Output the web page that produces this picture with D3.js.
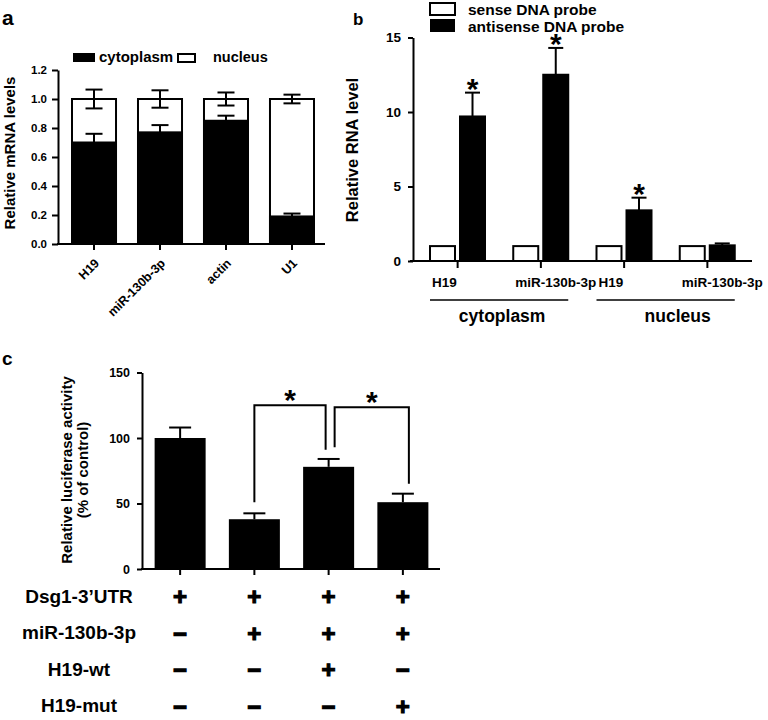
<!DOCTYPE html>
<html>
<head>
<meta charset="utf-8">
<title>H19 / miR-130b-3p</title>
<script src="https://d3js.org/d3.v7.min.js"></script>
<style>
body { margin: 0; background: #fff; }
svg text { font-family: "Liberation Sans", Arial, Helvetica, sans-serif; font-weight: bold; fill: #000; }
.axis path, .axis line { stroke: #000; stroke-width: 2px; }
</style>
</head>
<body>
<svg id="fig" width="768" height="720"></svg>
<script>
// ---- panel a: fraction of each RNA in cytoplasm / nucleus
var genesA = ["H19", "miR-130b-3p", "actin", "U1"];
var cytoA = [0.70, 0.77, 0.85, 0.19];
var cytoErrA = [0.06, 0.05, 0.035, 0.02];
var nucErrA = [0.065, 0.06, 0.045, 0.03];
var ticksA = [0, 0.2, 0.4, 0.6, 0.8, 1.0, 1.2];

// ---- panel b: RNA pull-down with sense / antisense probes
var groupsB = ["H19", "miR-130b-3p", "H19", "miR-130b-3p"];
var fractionsB = ["cytoplasm", "nucleus"];
var probesB = ["sense DNA probe", "antisense DNA probe"];
var senseB = [1, 1, 1, 1];
var antisenseB = [9.7, 12.5, 3.4, 1.05];
var antisenseErrB = [1.6, 1.8, 0.85, 0.13];
var starB = [true, true, true, false];
var ticksB = [0, 5, 10, 15];

// ---- panel c: luciferase reporter
var lucC = [100, 38, 78, 51];
var lucErrC = [8, 4.5, 6, 6.5];
var ticksC = [0, 50, 100, 150];
var rowLabelsC = ["Dsg1-3\u2019UTR", "miR-130b-3p", "H19-wt", "H19-mut"];
var signsC = [
  ["+", "+", "+", "+"],
  ["\u2212", "+", "+", "+"],
  ["\u2212", "\u2212", "+", "\u2212"],
  ["\u2212", "\u2212", "\u2212", "+"]
];
// significance brackets: bar indices, bracket height and leg ends (in % units)
var bracketsC = [
  { a: 1, b: 2, top: 125, legA: 51, legB: 91 },
  { a: 2, b: 3, top: 123.5, legA: 93, legB: 65 }
];

var svg = d3.select("#fig");

function txt(g, x, y, s, size, anchor) {
  return g.append("text").attr("x", x).attr("y", y)
    .attr("font-size", size).attr("text-anchor", anchor || "start").text(s);
}
function vline(g, x, y1, y2) {
  g.append("line").attr("x1", x).attr("x2", x).attr("y1", y1).attr("y2", y2)
    .attr("stroke", "#000").attr("stroke-width", 2);
}
function hline(g, x1, x2, y, w) {
  g.append("line").attr("x1", x1).attr("x2", x2).attr("y1", y).attr("y2", y)
    .attr("stroke", "#000").attr("stroke-width", w || 2);
}
function star(g, x, y) {
  // y = bottom of the asterisk glyph
  g.append("text").attr("x", x).attr("y", y + 9).attr("font-size", 30)
    .attr("font-weight", "normal").attr("text-anchor", "middle").text("*");
}

// ================= panel a =================
var gA = svg.append("g");
txt(gA, 2, 25, "a", 21);

var ya = d3.scaleLinear().domain([0, 1.2]).range([244, 70]);
var xa = d3.scaleBand().domain(genesA).range([61, 325]).paddingInner(0.333).paddingOuter(0.1667);

gA.selectAll(".nuc").data(genesA).join("rect").attr("class", "nuc")
  .attr("x", function(d) { return xa(d); })
  .attr("width", xa.bandwidth())
  .attr("y", ya(1)).attr("height", ya(0) - ya(1))
  .attr("fill", "#fff").attr("stroke", "#000").attr("stroke-width", 2);

gA.selectAll(".cyto").data(genesA).join("rect").attr("class", "cyto")
  .attr("x", function(d) { return xa(d); })
  .attr("width", xa.bandwidth())
  .attr("y", function(d, i) { return ya(cytoA[i]); })
  .attr("height", function(d, i) { return ya(0) - ya(cytoA[i]); })
  .attr("fill", "#000").attr("stroke", "#000").attr("stroke-width", 2);

genesA.forEach(function(d, i) {
  var cx = xa(d) + xa.bandwidth() / 2;
  // cytoplasm error, upward
  vline(gA, cx, ya(cytoA[i]), ya(cytoA[i] + cytoErrA[i]));
  hline(gA, cx - 8.5, cx + 8.5, ya(cytoA[i] + cytoErrA[i]));
  // nucleus error around the total
  vline(gA, cx, ya(1 - nucErrA[i]), ya(1 + nucErrA[i]));
  hline(gA, cx - 8.5, cx + 8.5, ya(1 + nucErrA[i]));
  hline(gA, cx - 8.5, cx + 8.5, ya(1 - nucErrA[i]));
  // rotated category label
  gA.append("text")
    .attr("transform", "translate(" + (cx + 6) + ",264) rotate(-45)")
    .attr("font-size", 12.5).attr("text-anchor", "end").text(d);
});

gA.append("g").attr("class", "axis").attr("transform", "translate(58,0)")
  .call(d3.axisLeft(ya).tickValues(ticksA).tickFormat(d3.format(".1f"))
    .tickSize(6).tickPadding(5).tickSizeOuter(0))
  .call(function(g) { g.selectAll("text").attr("font-size", 11.5); });

var axA = gA.append("g").attr("class", "axis").attr("transform", "translate(0,244)")
  .call(d3.axisBottom(xa).tickSize(6).tickSizeOuter(0).tickFormat(""));
axA.select(".domain").remove();
hline(gA, 57, 325, 244);

gA.append("text").attr("transform", "translate(15,153) rotate(-90)")
  .attr("font-size", 15).attr("text-anchor", "middle").text("Relative mRNA levels");

// legend a
gA.append("rect").attr("x", 73).attr("y", 53).attr("width", 22).attr("height", 9).attr("fill", "#000");
txt(gA, 99, 62, "cytoplasm", 15);
gA.append("rect").attr("x", 178).attr("y", 54).attr("width", 17).attr("height", 8)
  .attr("fill", "#fff").attr("stroke", "#000").attr("stroke-width", 2);
txt(gA, 213, 62, "nucleus", 14.5);

// ================= panel b =================
var gB = svg.append("g");
txt(gB, 353, 25, "b", 17);

var yb = d3.scaleLinear().domain([0, 15]).range([261, 37.5]);
var x0 = d3.scaleBand().domain(d3.range(groupsB.length)).range([416, 749]);
var x1 = d3.scaleBand().domain(probesB).range([14, 69]).paddingInner(0.167);

groupsB.forEach(function(d, i) {
  var xs = x0(i) + x1(probesB[0]);
  var xa2 = x0(i) + x1(probesB[1]);
  var bw = x1.bandwidth();
  gB.append("rect").attr("x", xs).attr("width", bw)
    .attr("y", yb(senseB[i])).attr("height", yb(0) - yb(senseB[i]))
    .attr("fill", "#fff").attr("stroke", "#000").attr("stroke-width", 2);
  gB.append("rect").attr("x", xa2).attr("width", bw)
    .attr("y", yb(antisenseB[i])).attr("height", yb(0) - yb(antisenseB[i]))
    .attr("fill", "#000").attr("stroke", "#000").attr("stroke-width", 2);
  var cx = xa2 + bw / 2;
  var top = yb(antisenseB[i] + antisenseErrB[i]);
  vline(gB, cx, yb(antisenseB[i]), top);
  hline(gB, cx - 7.5, cx + 7.5, top);
  if (starB[i]) star(gB, cx, top - 3);
  txt(gB, xs + 2, 287, d, 13.5);
});

gB.append("g").attr("class", "axis").attr("transform", "translate(413,0)")
  .call(d3.axisLeft(yb).tickValues(ticksB).tickSize(5).tickPadding(7).tickSizeOuter(0))
  .call(function(g) { g.selectAll("text").attr("font-size", 13.5); });

var axB = gB.append("g").attr("class", "axis").attr("transform", "translate(0,261)")
  .call(d3.axisBottom(x0).tickSize(7).tickSizeOuter(0).tickFormat(""));
axB.select(".domain").remove();
hline(gB, 410, 752, 261);

// fraction underlines
fractionsB.forEach(function(f, k) {
  var xl = x0(2 * k) + x1(probesB[0]);
  var xr = x0(2 * k + 1) + x1(probesB[1]) + x1.bandwidth();
  hline(gB, xl, xr, 300, 1.5);
  txt(gB, (xl + xr) / 2 + [3, 12][k], 322, f, 17.5, "middle");
});

gB.append("text").attr("transform", "translate(358,150) rotate(-90)")
  .attr("font-size", 16.5).attr("text-anchor", "middle").text("Relative RNA level");

// legend b
gB.append("rect").attr("x", 430).attr("y", 3).attr("width", 25).attr("height", 12)
  .attr("fill", "#fff").attr("stroke", "#000").attr("stroke-width", 2);
txt(gB, 468, 14.5, probesB[0], 15.5);
gB.append("rect").attr("x", 430).attr("y", 19).attr("width", 25).attr("height", 13).attr("fill", "#000");
txt(gB, 468, 32, probesB[1], 15.5);

// ================= panel c =================
var gC = svg.append("g");
txt(gC, 2, 365, "c", 19);

var yc = d3.scaleLinear().domain([0, 150]).range([569, 372.5]);
var xc = d3.scaleBand().domain(d3.range(lucC.length)).range([143, 440]).paddingInner(0.313).paddingOuter(0.1565);
var cxC = function(i) { return xc(i) + xc.bandwidth() / 2; };

gC.selectAll(".luc").data(lucC).join("rect").attr("class", "luc")
  .attr("x", function(d, i) { return xc(i); })
  .attr("width", xc.bandwidth())
  .attr("y", function(d) { return yc(d); })
  .attr("height", function(d) { return yc(0) - yc(d); })
  .attr("fill", "#000");

lucC.forEach(function(d, i) {
  var top = yc(d + lucErrC[i]);
  vline(gC, cxC(i), yc(d), top);
  hline(gC, cxC(i) - 11, cxC(i) + 11, top);
});

var legOffset = [[0, -3], [6, 6]];
bracketsC.forEach(function(b, k) {
  var xa3 = cxC(b.a) + legOffset[k][0], xb3 = cxC(b.b) + legOffset[k][1];
  var yt = yc(b.top);
  gC.append("path")
    .attr("d", "M" + xa3 + "," + yc(b.legA) + "V" + yt + "H" + xb3 + "V" + yc(b.legB))
    .attr("fill", "none").attr("stroke", "#000").attr("stroke-width", 2);
  star(gC, (xa3 + xb3) / 2, yt - 4);
});

gC.append("g").attr("class", "axis").attr("transform", "translate(142,0)")
  .call(d3.axisLeft(yc).tickValues(ticksC).tickSize(5).tickPadding(7).tickSizeOuter(0))
  .call(function(g) { g.selectAll("text").attr("font-size", 12.5); });

var axC = gC.append("g").attr("class", "axis").attr("transform", "translate(0,569)")
  .call(d3.axisBottom(xc).tickSize(6).tickSizeOuter(0).tickFormat(""));
axC.select(".domain").remove();
hline(gC, 141, 440, 569);

var yl = gC.append("text").attr("transform", "translate(72,470) rotate(-90)")
  .attr("font-size", 15).attr("text-anchor", "middle");
yl.append("tspan").attr("x", 0).attr("y", 0).text("Relative luciferase activity");
yl.append("tspan").attr("x", 0).attr("y", 16).text("(% of control)");

// treatment table
var yRow = d3.scaleBand().domain(rowLabelsC).range([579, 725]);
rowLabelsC.forEach(function(r, j) {
  var cy = yRow(r) + yRow.bandwidth() / 2;
  txt(gC, 79, cy + 5.5, r, 19, "middle");
  signsC[j].forEach(function(s, i) {
    txt(gC, cxC(i), cy + 8, s, 24, "middle")
      .attr("stroke", "#000").attr("stroke-width", 1.2);
  });
});
</script>
</body>
</html>
